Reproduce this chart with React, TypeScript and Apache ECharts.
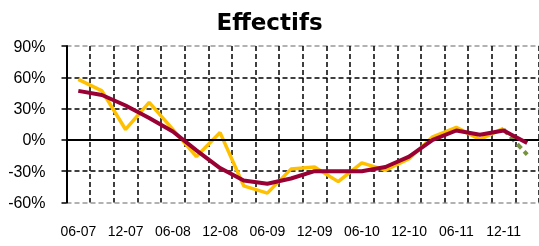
import React, { useEffect, useRef } from "react";
import * as echarts from "echarts";

const categories = [
  "06-07", "09-07", "12-07", "03-08", "06-08", "09-08", "12-08", "03-09", "06-09", "09-09",
  "12-09", "03-10", "06-10", "09-10", "12-10", "03-11", "06-11", "09-11", "12-11", "03-12",
];
const yellowValues = [58, 47, 10, 36, 10, -16, 7, -44, -51, -28, -26, -40, -22, -29, -18, 3, 12, 0.5, 11, null];
const redValues = [47, 43, 33, 21, 8, -10, -27, -39, -42, -37, -30, -30, -30, -26, -16, 0, 9, 5, 9, -3];
const greenValues = [null, null, null, null, null, null, null, null, null, null, null, null, null, null, null, null, null, null, 10, -14];

export default function App() {
  const ref = useRef<HTMLDivElement>(null);
  useEffect(() => {
    if (!ref.current) return;
    const chart = echarts.init(ref.current, null, { renderer: "svg" });
    chart.setOption({
      animation: false,
      title: {
        text: "Effectifs",
        left: "center",
        top: 5,
        textStyle: { fontFamily: "DejaVu Sans", fontWeight: "bold", fontSize: 23, color: "#000" },
      },
      grid: { left: 66.5, right: -3, top: 46, bottom: 43.5, containLabel: false },
      xAxis: {
        type: "category",
        data: categories,
        boundaryGap: true,
        axisLine: { show: false },
        axisTick: { show: false },
        axisLabel: { interval: 1, margin: 21, fontSize: 14, color: "#000", fontFamily: "Liberation Sans" },
        splitLine: { show: true, interval: 0, lineStyle: { color: "#000", type: [5, 3], width: 1.5 } },
      },
      yAxis: {
        type: "value",
        min: -60,
        max: 90,
        interval: 30,
        axisLine: { show: true, lineStyle: { color: "#000", width: 2 } },
        axisTick: { show: true, length: 5, inside: false, lineStyle: { color: "#000", width: 1.5 } },
        axisLabel: { formatter: "{value}%", margin: 21, fontSize: 16, color: "#000", fontFamily: "Liberation Sans" },
        splitLine: {
          show: true,
          lineStyle: { color: ["#999", "#000", "#000", "#000", "#000", "#999"], type: [5, 3], width: 1.5 },
        },
      },
      series: [
        {
          type: "line",
          data: [],
          z: 1,
          silent: true,
          markLine: {
            silent: true,
            symbol: "none",
            label: { show: false },
            lineStyle: { color: "#000", type: "solid", width: 2 },
            data: [{ yAxis: 0 }],
          },
        },
        {
          name: "yellow",
          type: "line",
          data: yellowValues,
          symbol: "none",
          z: 3,
          lineStyle: { color: "#FFC000", width: 3.5 },
        },
        {
          name: "green",
          type: "line",
          data: greenValues,
          symbol: "none",
          z: 4,
          lineStyle: { color: "#77933C", width: 4, type: [6, 4] },
        },
        {
          name: "red",
          type: "line",
          data: redValues,
          symbol: "none",
          z: 5,
          lineStyle: { color: "#990033", width: 4 },
        },
      ],
    });
    return () => chart.dispose();
  }, []);
  return <div ref={ref} style={{ position: "fixed", left: 0, top: 0, width: 539, height: 246 }} />;
}
